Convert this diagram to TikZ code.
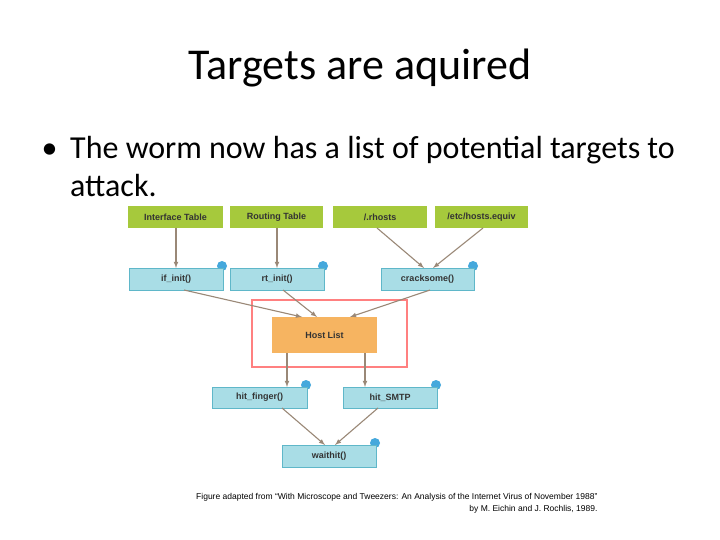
\documentclass[tikz,border=0pt]{standalone}
\usepackage{fontspec}
\setmainfont{Carlito}
\newfontfamily\diag{Liberation Sans}
\begin{document}
\begin{tikzpicture}[x=1pt,y=-1pt,
  lbl/.style={font=\diag\bfseries\fontsize{9}{10}\selectfont,text=black!80},
  arr/.style={draw=black!55!brown!60,line width=1.1pt,-{latex}}]
\useasboundingbox (0,0) rectangle (720,540);
\fill[white] (0,0) rectangle (720,540);
\node (title) at (360,68) {\fontsize{44}{48}\selectfont Targets are aquired};
\node[anchor=west,font=\fontsize{32}{38}\selectfont] (bul) at (38,151) {\textbullet};
\node[anchor=north west,align=left,inner sep=0pt,font=\fontsize{32}{38}\selectfont] (txt) at (70,136) {The worm now has a list of potential targets to\\ attack.};
\definecolor{grn}{HTML}{A6C93C}
\definecolor{blu}{HTML}{A9DDE6}
\definecolor{blb}{HTML}{5FB7C9}
\definecolor{dotc}{HTML}{45A8DC}
\definecolor{org}{HTML}{F6B461}
% green
\foreach \n/\a/\b/\t in {it/128/223/Interface Table, rt/230/323/Routing Table, rh/333/427/{/.rhosts}, he/435/528/{/etc/hosts.equiv}}{
  \fill[grn] (\a,206) rectangle (\b,228);
  \node[lbl] (\n) at ({(\a+\b)/2},217) {\t};
}
% blue boxes
\foreach \n/\a/\b/\c/\d/\t in {ii/129/223/268/290/if\_init(), ri/230/324/268/290/rt\_init(), cs/381/474/268/290/cracksome(), hf/212/307/387/408/hit\_finger(), hs/343/437/387/408/hit\_SMTP, wh/282/376/445/467/waithit()}{
  \fill[dotc] (\b-1,\c-2) circle (5);
  \filldraw[fill=blu,draw=blb,line width=0.8pt] (\a,\c) rectangle (\b,\d);
  \node[lbl] (\n) at ({(\a+\b)/2},{(\c+\d)/2}) {\t};
}
\fill[org] (272,317) rectangle (377,353);
\node[lbl] (hl) at (324.5,335) {Host List};
\draw[red!50!white,line width=2pt] (252,300) rectangle (407,367);
\coordinate (a1) at (176,228); \coordinate (b1) at (176,268);
\coordinate (a2) at (277,228); \coordinate (b2) at (277,268);
\coordinate (a3) at (377,228); \coordinate (b3) at (424,268);
\coordinate (a4) at (483,228); \coordinate (b4) at (433,268);
\coordinate (a5) at (184,290); \coordinate (b5) at (302,317);
\coordinate (a6) at (283,290); \coordinate (b6) at (317,317);
\coordinate (a7) at (430,290); \coordinate (b7) at (350,317);
\coordinate (a8) at (287,353); \coordinate (b8) at (287,387);
\coordinate (a9) at (365,353); \coordinate (b9) at (365,387);
\coordinate (a10) at (282,408); \coordinate (b10) at (325,445);
\coordinate (a11) at (378,408); \coordinate (b11) at (335,445);
\foreach \i in {1,...,11}{\draw[arr] (a\i) -- (b\i);}
\node[anchor=east,align=right,font=\diag\fontsize{8.5}{12}\selectfont] (cap) at (601,503) {Figure adapted from “With Microscope and Tweezers: An Analysis of the Internet Virus of November 1988”\\ by M. Eichin and J. Rochlis, 1989.};
\end{tikzpicture}
\end{document}
